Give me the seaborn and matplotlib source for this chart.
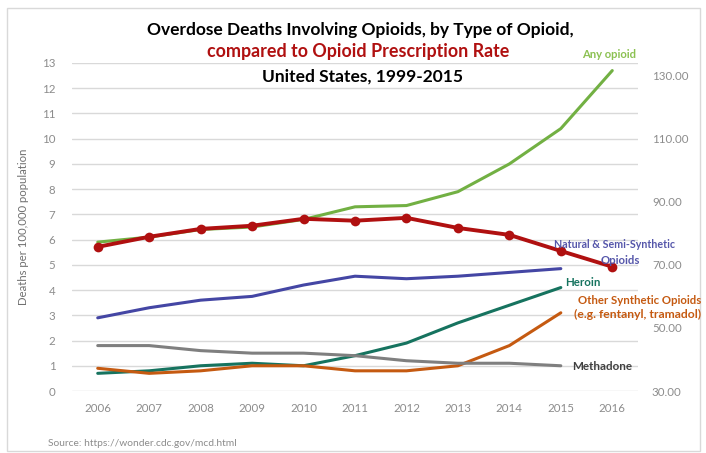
import matplotlib
matplotlib.use("Agg")
import matplotlib.pyplot as plt
import seaborn as sns
import pandas as pd
from matplotlib.patches import Rectangle

years = [2006, 2007, 2008, 2009, 2010, 2011, 2012, 2013, 2014, 2015, 2016]

any_opioid = [5.9, 6.1, 6.4, 6.5, 6.8, 7.3, 7.35, 7.9, 9.0, 10.4, 12.7]
natural_semi = [2.9, 3.3, 3.6, 3.75, 4.2, 4.55, 4.45, 4.55, 4.7, 4.85]
heroin = [0.7, 0.8, 1.0, 1.1, 1.0, 1.4, 1.9, 2.7, 3.4, 4.1]
other_synth = [0.9, 0.7, 0.8, 1.0, 1.0, 0.8, 0.8, 1.0, 1.8, 3.1]
methadone = [1.8, 1.8, 1.6, 1.5, 1.5, 1.4, 1.2, 1.1, 1.1, 1.0]
rx_rate = [75.7, 78.9, 81.4, 82.4, 84.6, 84.0, 84.9, 81.7, 79.5, 74.4, 69.4]

left_ticks = list(range(0, 14))
right_ticks = [30, 50, 70, 90, 110, 130]
right_labels = ["30.00", "50.00", "70.00", "90.00", "110.00", "130.00"]

series_names = ["Any opioid", "Natural & Semi-Synthetic Opioids", "Heroin",
                "Other Synthetic Opioids", "Methadone"]
series_vals = [any_opioid, natural_semi, heroin, other_synth, methadone]
colors = {"Any opioid": "#72B043",
          "Natural & Semi-Synthetic Opioids": "#4446A4",
          "Heroin": "#16735F",
          "Other Synthetic Opioids": "#C55A11",
          "Methadone": "#7F7F7F"}

rows = []
for name, vals in zip(series_names, series_vals):
    for y, v in zip(years, vals):
        rows.append({"year": y, "value": v, "series": name})
df = pd.DataFrame(rows)
df_rx = pd.DataFrame({"year": years, "rate": rx_rate})

sns.set_style("white")
plt.rcParams['font.family'] = ['Lato', 'DejaVu Sans']

W, H = 706, 453
fig = plt.figure(figsize=(W/100, H/100), dpi=100)
ax = fig.add_axes([72/W, 1-391/H, (638-72)/W, (391-63)/H])

sns.lineplot(data=df, x="year", y="value", hue="series", palette=colors,
             hue_order=series_names, linewidth=2.2, ax=ax, legend=False,
             zorder=3)

ax.set_xlim(2005.5, 2016.5)
ax.set_ylim(0, 13)
ax.set_yticks(left_ticks)
ax.set_xticks(years)
ax.set_xticklabels([str(y) for y in years])
ax.yaxis.grid(True, color="#D9D9D9", linewidth=1)
ax.xaxis.grid(False)
for s in ax.spines.values():
    s.set_visible(False)
ax.tick_params(axis="both", length=0, labelsize=8.3, labelcolor="#8C8C8C")
ax.tick_params(axis="y", pad=12)
ax.tick_params(axis="x", pad=9)
ax.set_xlabel("")
ylab = ax.set_ylabel("Deaths per 100,000 population", fontsize=7.3,
                     color="#707070", labelpad=9)

ax2 = ax.twinx()
sns.lineplot(data=df_rx, x="year", y="rate", color="#B01010", linewidth=2.8,
             marker="o", markersize=7, markeredgewidth=0, ax=ax2, zorder=4)
ax2.set_ylim(30, 134)
ax2.set_yticks(right_ticks)
ax2.set_yticklabels(right_labels)
ax2.set_ylabel("")
for s in ax2.spines.values():
    s.set_visible(False)
ax2.tick_params(axis="y", length=0, labelsize=8.3, labelcolor="#8C8C8C", pad=10)
ax2.grid(False)

renderer = fig.canvas.get_renderer()


def fit(t, target, vertical=False):
    for _ in range(3):
        bb = t.get_window_extent(renderer)
        cur = bb.height if vertical else bb.width
        t.set_fontsize(t.get_fontsize() * target / cur)


def place(text, x0, x1, y, color, size=7.5, bold=True, zorder=6):
    t = fig.text((x0 + x1) / 2 / W, 1 - y / H, text, ha="center", va="center",
                 color=color, fontsize=size,
                 fontweight="bold" if bold else "normal", zorder=zorder)
    fit(t, x1 - x0)
    return t


# series labels
place("Any opioid", 582, 636, 55, "#8CC152")
place("Natural & Semi-Synthetic", 555, 675, 245, "#5556AA")
place("Opioids", 600, 640, 261, "#5556AA")
place("Heroin", 565, 600, 283, "#16735F")
place("Other Synthetic Opioids", 578, 702, 300, "#C55A11")
place("(e.g. fentanyl, tramadol)", 575, 701, 314, "#C55A11")
place("Methadone", 572, 632, 367, "#404040")

# titles
place("Overdose Deaths Involving Opioids, by Type of Opioid,", 145, 575, 30,
      "black", size=12.5)
place("compared to Opioid Prescription Rate", 207, 510, 52, "#B01010", size=12.5)
place("United States, 1999-2015", 262, 463, 77, "black", size=12.5)

src = fig.text(48/W, 1-443/H, "Source: https://wonder.cdc.gov/mcd.html",
               ha="left", va="center", fontsize=6.5, color="#8C8C8C")
fit(src, 189)
fit(ylab, 157, vertical=True)

fig.patches.append(Rectangle((7/W, 1-451/H), 693/W, 443/H,
                             transform=fig.transFigure, fill=False,
                             edgecolor="#D9D9D9", linewidth=1))

fig.savefig("out.png", dpi=100)
